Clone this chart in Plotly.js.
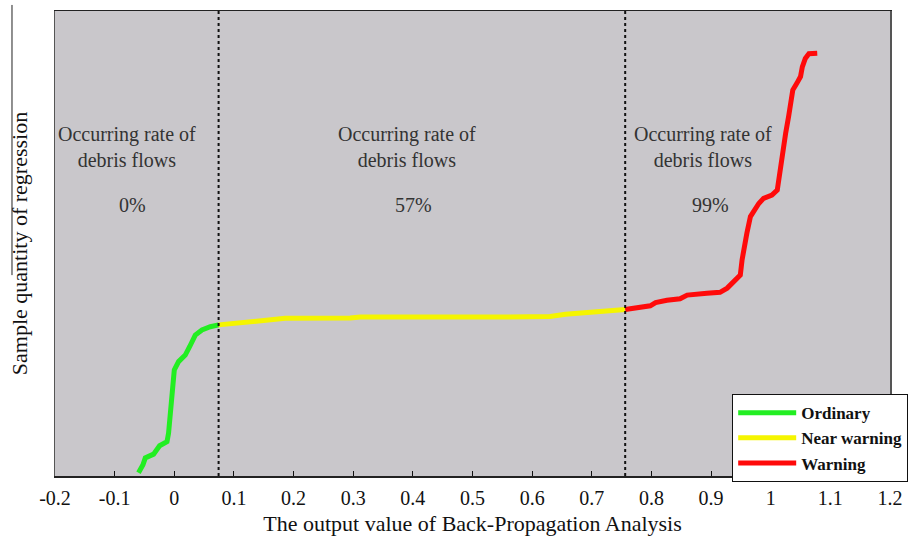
<!DOCTYPE html>
<html>
<head>
<meta charset="utf-8">
<script src="https://cdn.plot.ly/plotly-3.0.1.min.js"></script>
<style>html,body{margin:0;padding:0;background:#fff;}#chart{width:914px;height:546px;}</style>
</head>
<body>
<div id="chart"></div>
<script>
// Ordinary (green)
const ordinaryX = [-0.060,-0.0525,-0.0486,-0.0347,-0.0246,-0.0122,-0.0096,-0.0067,-0.0039,-0.0022,0.000,0.0072,0.0184,0.0257,0.0352,0.0464,0.0604,0.0743];
const ordinaryY = [0.7,2.4,3.9,4.7,6.5,7.4,9.2,12.8,16.3,19.9,22.8,24.6,26.0,27.8,30.3,31.4,32.1,32.5];
// Near warning (yellow)
const nearX = [0.0743,0.1107,0.1442,0.166,0.186,0.295,0.312,0.547,0.630,0.656,0.714,0.756];
const nearY = [32.5,33.0,33.2,33.5,33.9,34.0,34.2,34.2,34.3,34.8,35.3,35.8];
// Warning (red)
const warnX = [0.756,0.781,0.798,0.807,0.826,0.848,0.860,0.893,0.915,0.927,0.938,0.949,0.952,0.955,0.960,0.966,0.980,0.988,1.002,1.011,1.015,1.019,1.025,1.030,1.034,1.037,1.044,1.050,1.053,1.058,1.064,1.078];
const warnY = [35.8,36.2,36.6,37.3,37.8,38.1,38.9,39.3,39.5,40.4,41.8,43.2,46.5,49.3,52.2,55.8,58.6,59.7,60.4,61.5,65.1,69.4,73.7,77.3,81.6,83.0,84.5,85.9,88.0,89.8,90.8,90.9];
// Region boundaries
const boundaries = [0.0743, 0.756];
// Region labels
const regionX = [-0.079, 0.391, 0.887];
const pctX = [-0.070, 0.401, 0.899];
const regionPct = ['0%', '57%', '99%'];
const tickVals = [-0.2,-0.1,0,0.1,0.2,0.3,0.4,0.5,0.6,0.7,0.8,0.9,1,1.1,1.2];
const tickText = ['-0.2','-0.1','0','0.1','0.2','0.3','0.4','0.5','0.6','0.7','0.8','0.9','1','1.1','1.2'];

const serif = 'Liberation Serif, Times New Roman, serif';
const traces = [
  {x: ordinaryX, y: ordinaryY, mode: 'lines', name: 'Ordinary', line: {color: '#22ee22', width: 5}},
  {x: nearX, y: nearY, mode: 'lines', name: 'Near warning', line: {color: '#f5f500', width: 5}},
  {x: warnX, y: warnY, mode: 'lines', name: 'Warning', line: {color: '#ff0a0a', width: 5}}
];

const shapes = boundaries.map(b => ({
  type: 'line', xref: 'x', yref: 'paper', x0: b, x1: b, y0: 0, y1: 1,
  line: {color: '#111', width: 2, dash: 'dot'}
}));
shapes.push({type: 'line', xref: 'paper', yref: 'paper', x0: -0.0515, x1: -0.0515, y0: 1.013, y1: 0.432, line: {color: '#222', width: 1}});

const annotations = [];
regionX.forEach((rx, i) => {
  annotations.push({x: rx, y: 0.7075, xref: 'x', yref: 'paper', xanchor: 'center', yanchor: 'middle',
    text: 'Occurring rate of<br>debris flows', showarrow: false,
    font: {family: serif, size: 20, color: '#333'}, align: 'center'});
  annotations.push({x: pctX[i], y: 0.583, xref: 'x', yref: 'paper', xanchor: 'center', yanchor: 'middle',
    text: regionPct[i], showarrow: false,
    font: {family: serif, size: 20, color: '#333'}});
});

const layout = {
  width: 914, height: 546,
  margin: {l: 55, r: 24, t: 11, b: 70, autoexpand: false},
  paper_bgcolor: '#ffffff', plot_bgcolor: '#c9c7cb',
  showlegend: true,
  legend: {x: 0.811, y: 0.176, xanchor: 'left', yanchor: 'top', bgcolor: '#ffffff', bordercolor: '#111', borderwidth: 1,
    font: {family: serif, size: 17, color: '#111', weight: 'bold'}, tracegroupgap: 0, itemwidth: 58},
  xaxis: {range: [-0.2, 1.2], tickvals: tickVals, ticktext: tickText, ticks: 'inside', ticklen: 5, tickcolor: '#111',
    showgrid: false, zeroline: false, showline: true, linecolor: '#222', linewidth: 1.5, mirror: true,
    tickfont: {family: serif, size: 20, color: '#111'}, ticklabelstandoff: 3,
    title: {text: 'The output value of Back-Propagation Analysis', font: {family: serif, size: 22, color: '#111'}, standoff: 8}},
  yaxis: {range: [0, 100], showticklabels: false, ticks: '', showgrid: false, zeroline: false, showline: true,
    linecolor: '#555', linewidth: 1.5, mirror: true,
    title: {text: 'Sample quantity of regression', font: {family: serif, size: 22, color: '#111'}, standoff: 20}},
  shapes: shapes,
  annotations: annotations
};

Plotly.newPlot('chart', traces, layout, {displayModeBar: false, staticPlot: true});
</script>
</body>
</html>
